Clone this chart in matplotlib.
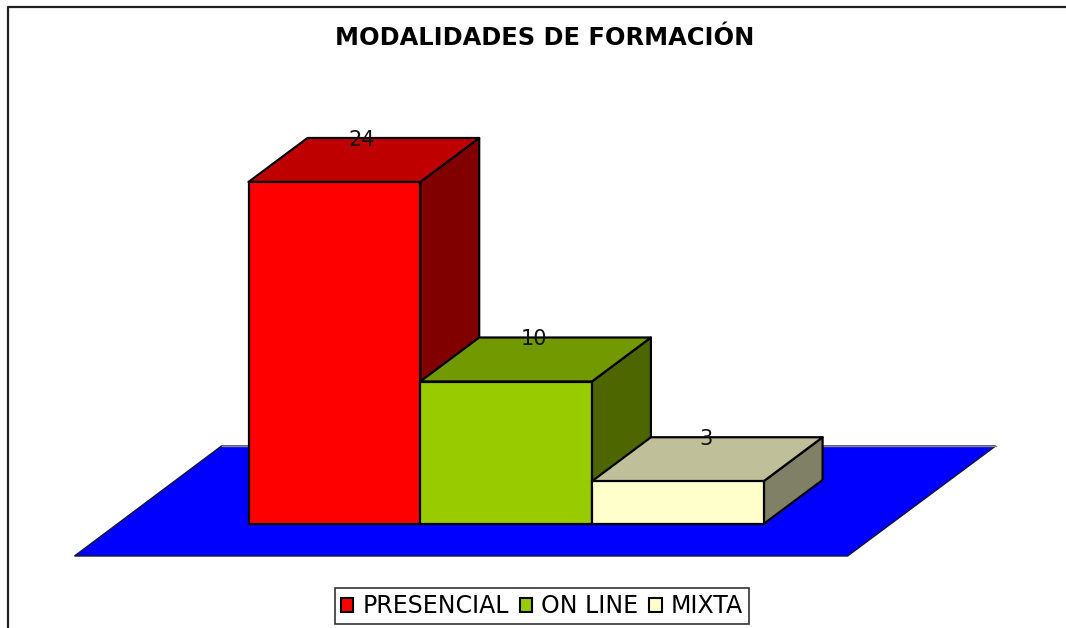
from matplotlib import pyplot as plt
from matplotlib.patches import Polygon, Patch

W, H = 1066, 628

categories = ['PRESENCIAL', 'ON LINE', 'MIXTA']
values = [24, 10, 3]
front_colors = ['#ff0000', '#99cc00', '#ffffcc']
top_colors = ['#bf0000', '#739900', '#bfbf99']
side_colors = ['#800000', '#4d6600', '#808066']

# scale of the chart, pixels per category and per unit
px_x = 171.7
px_y = 14.25
left = 248.5
base = 524
depth_x = 59 / px_x
depth_y = 44 / px_y

fig = plt.figure(figsize=(W / 100, H / 100), dpi=100)
ax = fig.add_axes([0, 0, 1, 1])
ax.set_xlim(-left / px_x, (W - left) / px_x)
ax.set_ylim(-(H - base) / px_y, base / px_y)
ax.axis('off')

# chart frame, cut off on the right and at the bottom
ax.plot([0.0075, 0.0075, 1], [0, 0.9896, 0.9896], transform=ax.transAxes, c='#222222', lw=1.6, clip_on=False)

# blue floor
n = len(categories)
floor_x = 174 / px_x
floor_y = 32 / px_y
ax.add_patch(Polygon([(-floor_x, -floor_y),
                      (n + 84 / px_x, -floor_y),
                      (n + 84 / px_x + 148 / px_x, -floor_y + 110 / px_y),
                      (-floor_x + 147 / px_x, -floor_y + 110 / px_y)],
                     fc='#0000ff', ec='#15153a', lw=1))
ax.plot([-floor_x + 147 / px_x, n + 84 / px_x + 148 / px_x], [-floor_y + 110 / px_y] * 2, c='#888888', lw=1, zorder=1)

for i in range(n):
    v = values[i]
    z = 3 + i
    # side first, the next bar covers its lower part
    ax.add_patch(Polygon([(i + 1, 0), (i + 1 + depth_x, depth_y), (i + 1 + depth_x, v + depth_y), (i + 1, v)],
                         fc=side_colors[i], ec='black', lw=1.6, joinstyle='round', zorder=z))
    ax.add_patch(Polygon([(i, v), (i + depth_x, v + depth_y), (i + 1 + depth_x, v + depth_y), (i + 1, v)],
                         fc=top_colors[i], ec='black', lw=1.6, joinstyle='round', zorder=z))
    ax.bar(i, v, width=1, align='edge', color=front_colors[i], edgecolor='black', lw=1.6, zorder=z)
    ax.text(i + 0.49 + depth_x / 2, v + depth_y - 0.12, str(v), ha='center', va='center', fontsize=15, color='#111111', zorder=10)

fig.text(545 / W, 1 - 38 / H, 'MODALIDADES DE FORMACIÓN', ha='center', va='center', fontsize=17.4, fontweight='bold', color='black')

handles = [Patch(fc=front_colors[i], ec='black', lw=1.5, label=categories[i]) for i in range(n)]
leg = ax.legend(handles=handles, ncol=3, loc='center', bbox_to_anchor=(542 / W, 1 - 606 / H), fontsize=17,
                fancybox=False, framealpha=1, edgecolor='#333333', handlelength=0.52, handleheight=0.52,
                handletextpad=0.4, columnspacing=0.45, borderpad=0.27, borderaxespad=0)
leg.get_frame().set_linewidth(1.2)
leg.set_zorder(20)

plt.savefig('out.png', dpi=100)
